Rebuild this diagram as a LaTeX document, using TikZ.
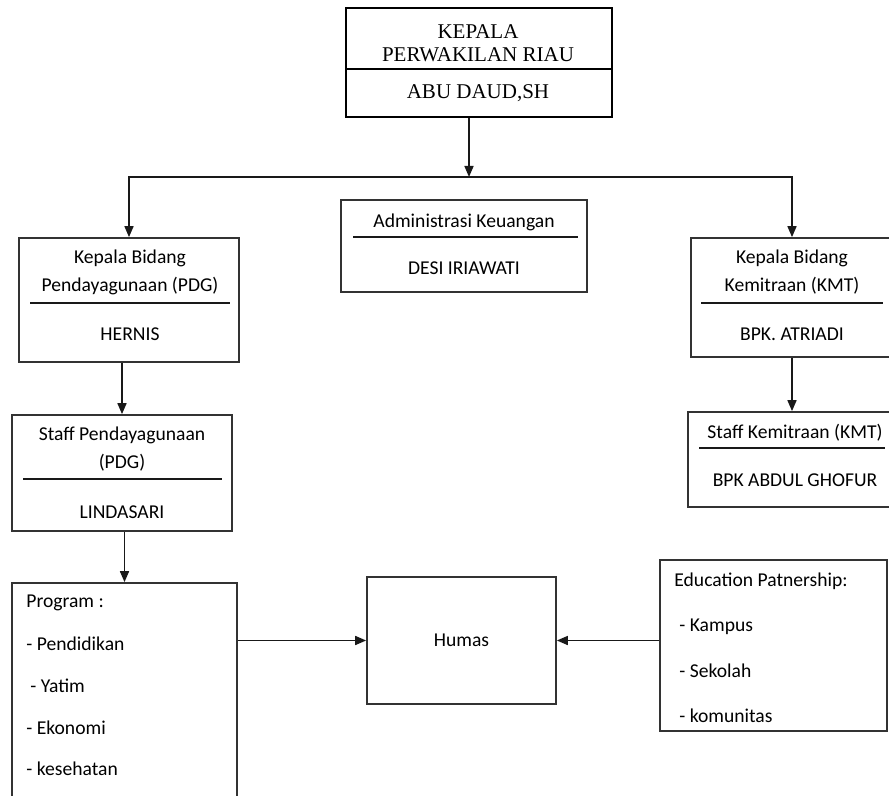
\documentclass[tikz,border=0pt]{standalone}
\usepackage{fontspec}
\setmainfont{Liberation Serif}
\newfontfamily\calibri{Carlito}
\usetikzlibrary{arrows.meta}
\definecolor{linegray}{HTML}{333333}
\tikzset{
  box/.style={draw=linegray, line width=0.85pt, inner sep=0pt},
  txt/.style={font=\calibri\fontsize{9.8}{14}\selectfont, align=center, inner sep=0pt, text=black},
  lst/.style={font=\calibri\fontsize{9.8}{12}\selectfont, anchor=west, inner sep=0pt, text=black},
  arr/.style={-{Triangle[length=5.5pt,width=4.5pt]}, draw=black!90, line width=0.8pt},
  rule/.style={draw=black!90, line width=0.75pt}
}

\begin{document}
\begin{tikzpicture}[x=0.5pt, y=-0.5pt]
    \useasboundingbox (0,0) rectangle (889,796);
    \clip (0,0) rectangle (889,796);

    % place nodes
    \node[box, draw=black, line width=0.65pt, minimum width=133pt, minimum height=54.5pt] at (479,62.5) (kepala) {};
    \node[font=\fontsize{10.5}{11.5}\selectfont, align=center, inner sep=0pt] at (478,43.5) (kepalaT) {KEPALA\\PERWAKILAN RIAU};
    \node[font=\fontsize{10.5}{11.5}\selectfont, inner sep=0pt] at (478,93) (kepalaN) {ABU DAUD,SH};
    \draw[line width=1pt] (346,69) -- (612,69);

    \node[box, minimum width=123pt, minimum height=46pt] at (464,246) (admin) {};
    \node[txt] at (464,222) (adminT) {Administrasi Keuangan};
    \node[txt] at (464,268) (adminN) {DESI IRIAWATI};
    \draw[rule] (353,237) -- (578,237);

    \node[box, minimum width=110pt, minimum height=62pt] at (129,300) (pdg) {};
    \node[txt] at (130,272) (pdgT) {Kepala Bidang\\Pendayagunaan (PDG)};
    \node[txt] at (130,334) (pdgN) {HERNIS};
    \draw[rule] (30,303) -- (230,303);

    \node[box, minimum width=101pt, minimum height=59.5pt] at (792,297.5) (kmt) {};
    \node[txt] at (792,272) (kmtT) {Kepala Bidang\\Kemitraan (KMT)};
    \node[txt] at (792,334) (kmtN) {BPK. ATRIADI};
    \draw[rule] (701,303) -- (883,303);

    \node[box, minimum width=110pt, minimum height=58pt] at (122,473) (spdg) {};
    \node[txt] at (122,449) (spdgT) {Staff Pendayagunaan\\(PDG)};
    \node[txt] at (122,512) (spdgN) {LINDASARI};
    \draw[rule] (23,479) -- (222,479);

    \node[box, minimum width=104pt, minimum height=47.5pt] at (792,459.5) (skmt) {};
    \node[txt] at (795,433) (skmtT) {Staff Kemitraan (KMT)};
    \node[txt] at (795,480) (skmtN) {BPK ABDUL GHOFUR};
    \draw[rule] (699,448) -- (885,448);

    \node[box, minimum width=112.5pt, minimum height=113.5pt] at (124.5,696.5) (prog) {};
    \node[lst] at (26,603) (prog1) {Program :};
    \node[lst] at (26,644) (prog2) {- Pendidikan};
    \node[lst] at (30,686) (prog3) {- Yatim};
    \node[lst] at (26,728) (prog4) {- Ekonomi};
    \node[lst] at (26,769) (prog5) {- kesehatan};

    \node[box, txt, minimum width=94.5pt, minimum height=63.5pt] at (461.5,640.5) (humas) {Humas};

    \node[box, minimum width=113.5pt, minimum height=85.5pt] at (773.5,645.5) (edu) {};
    \node[lst] at (674,581) (edu1) {Education Patnership:};
    \node[lst] at (679,627) (edu2) {- Kampus};
    \node[lst] at (679,671) (edu3) {- Sekolah};
    \node[lst] at (679,716) (edu4) {- komunitas};

    % draw edges
    \coordinate (bus) at (469,177);
    \draw[arr] (bus |- kepala.south) -- (bus);
    \draw[arr] (bus) -| (pdg.north);
    \draw[arr] (bus) -| (kmt.north);
    \draw[arr] (spdg.north |- pdg.south) -- (spdg.north);
    \draw[arr] (prog.north |- spdg.south) -- (prog.north);
    \draw[arr] (kmt.south) -- (skmt.north);
    \draw[arr] (humas.west -| prog.east) -- (humas.west);
    \draw[arr] (humas.east -| edu.west) -- (humas.east);
\end{tikzpicture}
\end{document}
